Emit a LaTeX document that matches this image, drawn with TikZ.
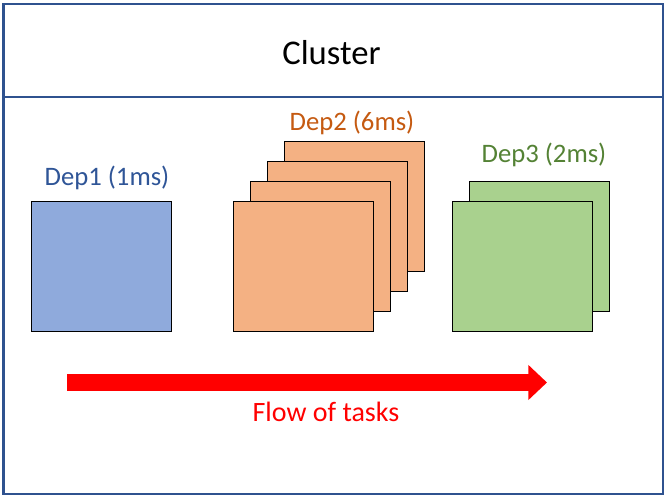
\documentclass[tikz,border=0pt]{standalone}
\usepackage{fontspec}
\setmainfont{Carlito}
\usetikzlibrary{arrows.meta,shadows}

\definecolor{frameblue}{RGB}{47,82,143}
\definecolor{depblue}{RGB}{143,170,220}
\definecolor{depbluetext}{RGB}{47,85,151}
\definecolor{deporange}{RGB}{244,177,131}
\definecolor{deporangetext}{RGB}{197,90,17}
\definecolor{depgreen}{RGB}{169,209,142}
\definecolor{depgreentext}{RGB}{84,130,53}

\tikzset{
  podbox/.style={draw=black, line width=0.75pt, minimum width=105pt, minimum height=97.5pt, inner sep=0pt},
  deplabel/.style={inner sep=0.75pt, font=\fontsize{20}{24}\selectfont},
}

\begin{document}
\begin{tikzpicture}[x=0.75pt,y=0.75pt,yscale=-1]
\useasboundingbox (0,0) rectangle (669,499);

%Shape: Frame
\draw [color=frameblue, line width=1.5pt] (3.5,4.5) rectangle (663,494);
\draw [color=frameblue, line width=1.5pt] (3.5,97) -- (663,97);

% Text Node
\node (title) at (331.5,53) [inner sep=0.75pt, font=\fontsize{26}{31}\selectfont] {Cluster};

%Shape: Dep1 box
\node (d1) at (101,267) [podbox, fill=depblue] {};
% Text Node
\node (d1label) at (107,178) [deplabel, text=depbluetext] {Dep1 (1ms)};

%Shape: Dep2 boxes, back to front
\foreach \i/\dx/\dy in {4/51/-60, 3/34/-40, 2/17/-20, 1/0/0}
  \node (d2\i) at (303+\dx,267+\dy) [podbox, fill=deporange] {};
% Text Node
\node (d2label) at (352,123) [deplabel, text=deporangetext] {Dep2 (6ms)};

%Shape: Dep3 boxes, back to front
\node (d32) at (539,247) [podbox, fill=depgreen] {};
\node (d31) at (522,267) [podbox, fill=depgreen] {};
% Text Node
\node (d3label) at (544,155) [deplabel, text=depgreentext] {Dep3 (2ms)};

%Straight Lines: flow arrow
\coordinate (flowstart) at (67,382.5);
\coordinate (flowend) at (547,382.5);
\draw [color=red, line width=12.75pt, -{Triangle[length=14pt, width=25.5pt]},
       drop shadow={shadow xshift=1.5pt, shadow yshift=-1.5pt, opacity=0.25}]
  (flowstart) -- (flowend);

% Text Node
\node (flowlabel) at (326,412) [inner sep=0.75pt, text=red, font=\fontsize{21}{25}\selectfont] {Flow of tasks};

\end{tikzpicture}
\end{document}
